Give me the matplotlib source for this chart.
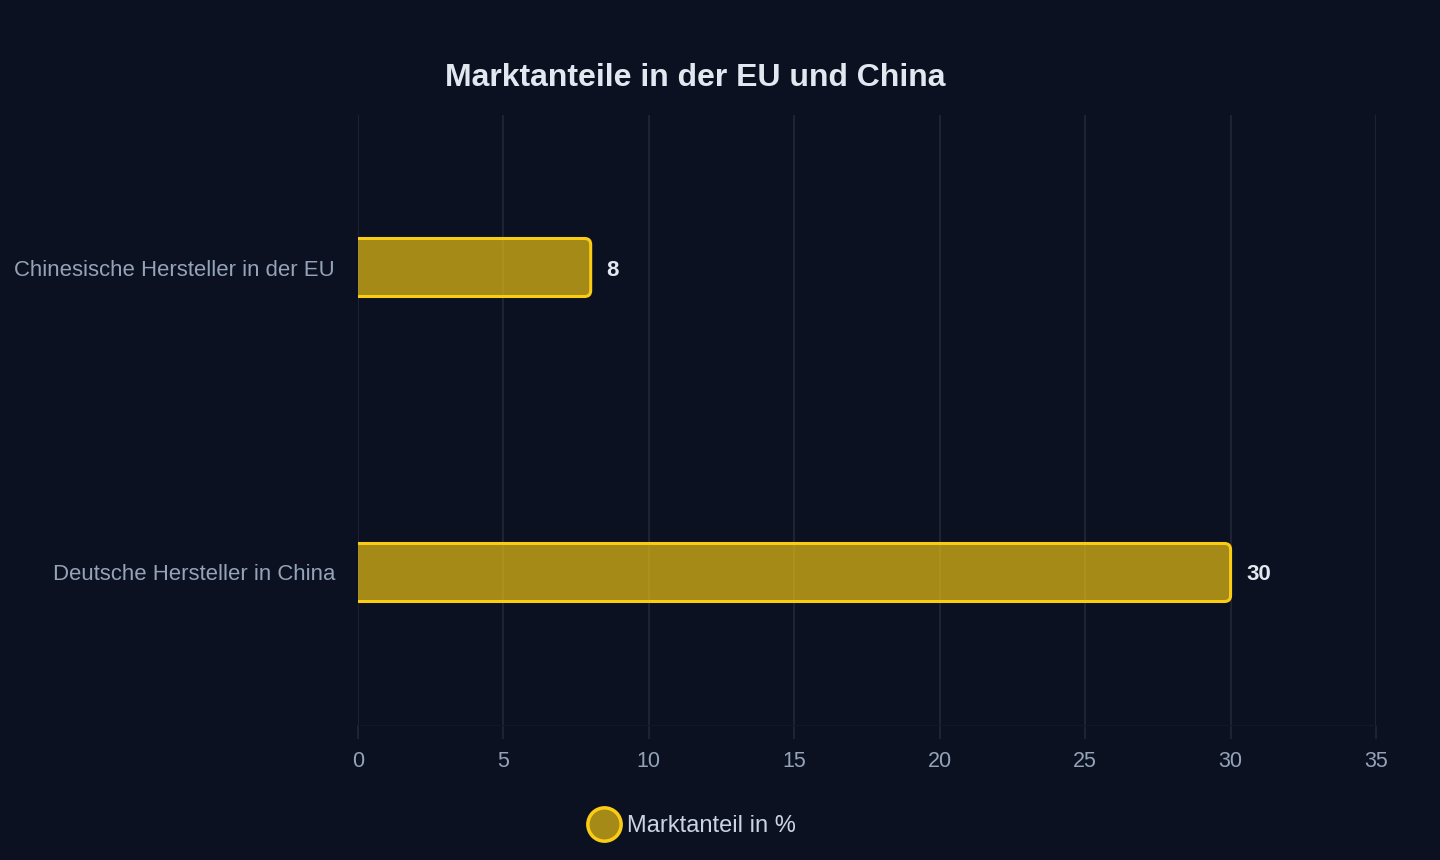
import matplotlib.pyplot as plt
from matplotlib.patches import FancyBboxPatch
from matplotlib.lines import Line2D

plt.rcParams['font.family'] = ['Liberation Sans', 'DejaVu Sans']

categories = ["Chinesische Hersteller in der EU", "Deutsche Hersteller in China"]
values = [8, 30]
x_ticks = [0, 5, 10, 15, 20, 25, 30, 35]

bg = "#0b1120"
bar_edge = "#facc15"
grid_col = "#1e2635"

fig = plt.figure(figsize=(14.4, 8.6), dpi=100, facecolor=bg)
ax = fig.add_axes([358 / 1440, 1 - 725 / 860, 1018 / 1440, 610 / 860])
ax.set_facecolor(bg)
ax.set_xlim(0, 35)
ax.set_ylim(1.5, -0.5)

# rounded bars, corners scaled to the axes aspect
px_x = 1018 / 35
px_y = 610 / 2
bar_h = 58 / px_y
r = 6 / px_x
aspect = px_x / px_y
for i, v in enumerate(values):
    patch = FancyBboxPatch((-1, i - bar_h / 2), v + 1, bar_h,
                           boxstyle=f"round,pad=0,rounding_size={r}",
                           mutation_aspect=aspect,
                           facecolor=bar_edge, alpha=0.65, edgecolor="none")
    ax.add_patch(patch)
    edge = FancyBboxPatch((-1, i - bar_h / 2), v + 1, bar_h,
                          boxstyle=f"round,pad=0,rounding_size={r}",
                          mutation_aspect=aspect,
                          facecolor="none", edgecolor=bar_edge, linewidth=2.2)
    ax.add_patch(edge)
    ax.text(v + 16 / px_x, i, str(v), color="#e2e8f0", fontsize=16,
            fontweight="bold", va="center_baseline", ha="left")

ax.set_xticks(x_ticks)
ax.set_xticklabels([str(t) for t in x_ticks])
ax.set_yticks(range(len(categories)))
ax.set_yticklabels(categories)
ax.grid(axis="x", color=grid_col, linewidth=1.3)
ax.set_axisbelow(True)
ax.tick_params(axis="x", colors=grid_col, length=10, width=1.3, labelsize=15.5,
               labelcolor="#94a3b8", pad=9)
ax.tick_params(axis="y", length=0, labelsize=15.9, labelcolor="#94a3b8", pad=16.5)
for s in ["top", "right", "left"]:
    ax.spines[s].set_visible(False)
ax.spines["bottom"].set_color("#111827")

fig.text(695 / 1440, 1 - 78 / 860, "Marktanteile in der EU und China",
         color="#e2e8f0", fontsize=23, fontweight="bold", ha="center", va="center")

handle = Line2D([], [], linestyle="none", marker="o", markersize=24,
                markerfacecolor="#a68a18", markeredgecolor=bar_edge,
                markeredgewidth=2.5)
fig.legend([handle], ["Marktanteil in %"], loc="center",
           bbox_to_anchor=(691 / 1440, 1 - 826 / 860), frameon=False,
           fontsize=17, labelcolor="#cbd5e1", handletextpad=0.2,
           handlelength=1.5)

fig.savefig("out.png", dpi=100, facecolor=bg)
